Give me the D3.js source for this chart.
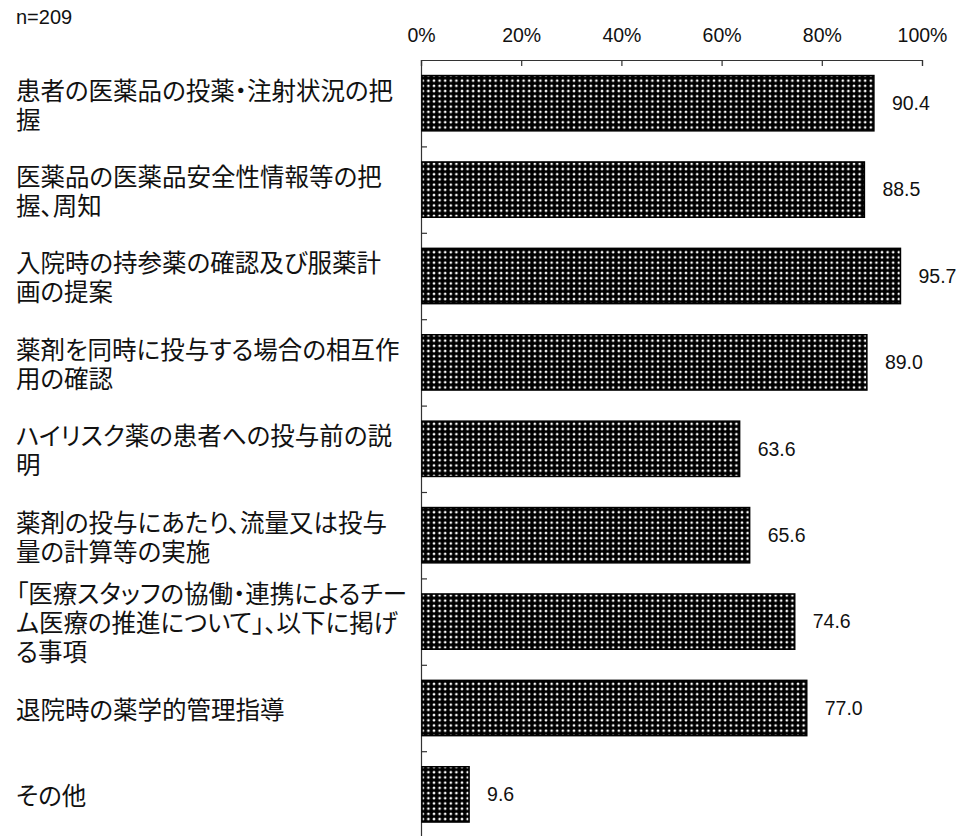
<!DOCTYPE html>
<html>
<head>
<meta charset="utf-8">
<script src="https://cdn.jsdelivr.net/npm/d3@7/dist/d3.min.js"></script>
<style>
  html, body { margin: 0; padding: 0; background: #fff; }
  svg { display: block; }
</style>
</head>
<body>
<svg id="chart" width="960" height="836"></svg>
<script>
// Survey items (each entry is the list of wrapped lines for that label)
const categories = [
  ["患者の医薬品の投薬・注射状況の把", "握"],
  ["医薬品の医薬品安全性情報等の把", "握、周知"],
  ["入院時の持参薬の確認及び服薬計", "画の提案"],
  ["薬剤を同時に投与する場合の相互作", "用の確認"],
  ["ハイリスク薬の患者への投与前の説", "明"],
  ["薬剤の投与にあたり、流量又は投与", "量の計算等の実施"],
  ["「医療スタッフの協働・連携によるチー", "ム医療の推進について」、以下に掲げ", "る事項"],
  ["退院時の薬学的管理指導"],
  ["その他"]
];
// Share of respondents (%)
const values = [90.4, 88.5, 95.7, 89.0, 63.6, 65.6, 74.6, 77.0, 9.6];
const tickValues = [0, 20, 40, 60, 80, 100];
const sampleLabel = "n=209";

const svg = d3.select("#chart");
const latin = "'Liberation Sans', Arial, sans-serif";
const cjk = "'Noto Sans CJK JP', 'Noto Sans', sans-serif";

const x = d3.scaleLinear().domain([0, 100]).range([421, 922]);
const ids = categories.map((d, i) => i);
const y = d3.scaleBand().domain(ids).range([60, 837.6]).paddingInner(0.36).paddingOuter(0.18);
const edges = d3.scaleLinear().domain([0, categories.length]).range([60, 837.6]);

// dotted fill for the bars
const defs = svg.append("defs");
const pat = defs.append("pattern")
  .attr("id", "dots").attr("patternUnits", "userSpaceOnUse")
  .attr("width", 5.6).attr("height", 5.2);
pat.append("rect").attr("width", 5.6).attr("height", 5.2).attr("fill", "#000");
pat.append("circle").attr("cx", 2.8).attr("cy", 2.6).attr("r", 1.35).attr("fill", "#fff");

// n label
svg.append("text").attr("x", 16).attr("y", 24)
  .style("font-family", latin).style("font-size", "20px").attr("fill", "#111")
  .text(sampleLabel);

// top percentage axis
const topAxis = svg.append("g").attr("transform", "translate(0,60)")
  .call(d3.axisTop(x).tickValues(tickValues).tickSize(-6).tickPadding(18).tickFormat(d => d + "%"));
topAxis.select(".domain").attr("stroke", "#333").attr("stroke-width", 1.2);
topAxis.selectAll(".tick line").attr("stroke", "#333").attr("stroke-width", 1.2);
topAxis.selectAll(".tick text").style("font-family", latin).style("font-size", "19.5px").attr("fill", "#111");

// left axis with separators between items
const leftAxis = svg.append("g").attr("transform", "translate(421,0)")
  .call(d3.axisRight(edges).tickValues(d3.range(1, categories.length)).tickSize(6).tickFormat(""));
leftAxis.select(".domain").attr("stroke", "#333").attr("stroke-width", 1.2);
leftAxis.selectAll(".tick line").attr("stroke", "#333").attr("stroke-width", 1.2);

// bars
svg.append("g").selectAll("rect").data(values).join("rect")
  .attr("x", x(0) + 1)
  .attr("y", (d, i) => y(i))
  .attr("width", d => x(d) - x(0) - 1)
  .attr("height", y.bandwidth())
  .attr("fill", "url(#dots)")
  .attr("stroke", "#000").attr("stroke-width", 1.5);

// value labels
svg.append("g").selectAll("text").data(values).join("text")
  .attr("x", d => x(d) + 18)
  .attr("y", (d, i) => y(i) + y.bandwidth() / 2)
  .attr("dy", "0.35em")
  .style("font-family", latin).style("font-size", "19.5px").attr("fill", "#111")
  .text(d => d.toFixed(1));

// item labels
const lineH = 29;
const lab = svg.append("g").selectAll("text").data(categories).join("text")
  .attr("x", 16)
  .attr("y", (d, i) => y(i) + y.bandwidth() / 2 - (d.length - 1) * lineH / 2 + 2)
  .style("font-family", cjk).style("font-size", "24.5px")
  .style("font-feature-settings", "'palt' 1")
  .attr("fill", "#111");
lab.selectAll("tspan").data(d => d).join("tspan")
  .attr("x", 16)
  .attr("dy", (d, j) => j === 0 ? "0.36em" : lineH)
  .text(d => d);
</script>
</body>
</html>
